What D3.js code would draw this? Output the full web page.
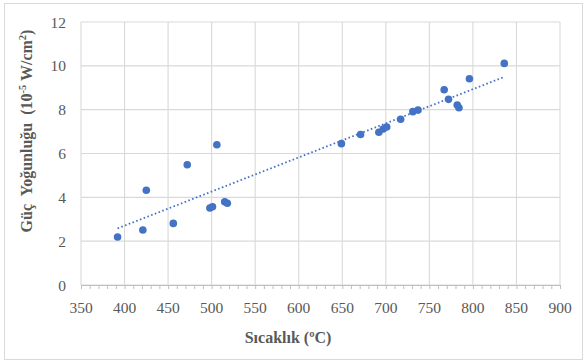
<!DOCTYPE html>
<html>
<head>
<meta charset="utf-8">
<script src="https://cdn.jsdelivr.net/npm/d3@7"></script>
<style>
  html, body { margin: 0; padding: 0; background: #fff; }
  svg { display: block; }
</style>
</head>
<body>
<svg id="chart" width="585" height="362"></svg>
<script>
// Measured temperature (°C) and power density (10^-5 W/cm²)
const temperature = [392, 421, 425, 456, 472, 498, 501, 506, 515, 518,
                     649, 671, 692, 697, 701, 717, 731, 737, 767, 772,
                     782, 784, 796, 836];
const powerDensity = [2.19, 2.51, 4.32, 2.81, 5.49, 3.51, 3.57, 6.40, 3.80, 3.73,
                      6.45, 6.87, 6.97, 7.12, 7.21, 7.56, 7.91, 7.98, 8.91, 8.47,
                      8.21, 8.09, 9.41, 10.11];
const xTicks = [350, 400, 450, 500, 550, 600, 650, 700, 750, 800, 850, 900];
const yTicks = [0, 2, 4, 6, 8, 10, 12];

const svg = d3.select("#chart");
const W = 585, H = 362;
const m = { left: 81, right: 25, top: 22, bottom: 77 };

// Outer chart frame
svg.append("rect")
  .attr("x", 4.5).attr("y", 3.5).attr("width", 578).attr("height", 356)
  .attr("fill", "#fff").attr("stroke", "#d9d9d9").attr("stroke-width", 1);

const x = d3.scaleLinear().domain([350, 900]).range([m.left, W - m.right]);
const y = d3.scaleLinear().domain([0, 12]).range([H - m.bottom, m.top]);

const grid = svg.append("g").attr("stroke", "#d9d9d9").attr("stroke-width", 1.1);
grid.selectAll("line.h").data(yTicks).join("line")
  .attr("x1", x(350)).attr("x2", x(900))
  .attr("y1", d => y(d)).attr("y2", d => y(d));
grid.selectAll("line.v").data(xTicks).join("line")
  .attr("y1", y(0)).attr("y2", y(12))
  .attr("x1", d => x(d)).attr("x2", d => x(d));

// X axis with minor tick marks every 10 °C
const minor = d3.range(350, 901, 10);
const xAxis = d3.axisBottom(x).tickValues(minor).tickSize(4).tickFormat("");
const gx = svg.append("g").attr("transform", `translate(0,${y(0)})`).call(xAxis);
gx.select(".domain").attr("stroke", "#bfbfbf");
gx.selectAll(".tick line").attr("stroke", "#bfbfbf");

const font = "'Liberation Serif', 'Times New Roman', serif";
svg.append("g").selectAll("text").data(xTicks).join("text")
  .attr("x", d => x(d)).attr("y", 313)
  .attr("text-anchor", "middle")
  .attr("font-family", font).attr("font-size", 15.5).attr("fill", "#595959")
  .text(d => d);

svg.append("g").selectAll("text").data(yTicks).join("text")
  .attr("x", 66).attr("y", d => y(d) + 5.5)
  .attr("text-anchor", "end")
  .attr("font-family", font).attr("font-size", 15.5).attr("fill", "#595959")
  .text(d => d);

// Linear trend line fitted to the measurements
const n = temperature.length;
const mx = d3.mean(temperature), my = d3.mean(powerDensity);
let sxy = 0, sxx = 0;
for (let i = 0; i < n; i++) {
  sxy += (temperature[i] - mx) * (powerDensity[i] - my);
  sxx += (temperature[i] - mx) ** 2;
}
const slope = sxy / sxx, intercept = my - slope * mx;
const [tMin, tMax] = d3.extent(temperature);
svg.append("line")
  .attr("x1", x(tMin)).attr("y1", y(intercept + slope * tMin))
  .attr("x2", x(tMax)).attr("y2", y(intercept + slope * tMax))
  .attr("stroke", "#4472c4").attr("stroke-width", 1.8)
  .attr("stroke-dasharray", "1.6 2.4");

// Data points
svg.append("g").selectAll("circle").data(temperature).join("circle")
  .attr("cx", d => x(d))
  .attr("cy", (d, i) => y(powerDensity[i]))
  .attr("r", 3.8)
  .attr("fill", "#4472c4");

// Axis titles
svg.append("text")
  .attr("x", 288).attr("y", 343)
  .attr("text-anchor", "middle")
  .attr("font-family", font).attr("font-weight", "bold").attr("font-size", 16)
  .attr("fill", "#595959")
  .text("Sıcaklık (ºC)");

const yt = svg.append("text")
  .attr("transform", "translate(32,131) rotate(-90)")
  .attr("text-anchor", "middle")
  .attr("font-family", font).attr("font-weight", "bold").attr("font-size", 16)
  .attr("fill", "#595959")
  .style("white-space", "pre");
yt.append("tspan").text("Güç  Yoğunluğu  (10");
yt.append("tspan").attr("dy", -6.5).attr("font-size", 10.5).text("-5");
yt.append("tspan").attr("dy", 6.5).text(" W/cm");
yt.append("tspan").attr("dy", -6.5).attr("font-size", 10.5).text("2");
yt.append("tspan").attr("dy", 6.5).text(")");
</script>
</body>
</html>
